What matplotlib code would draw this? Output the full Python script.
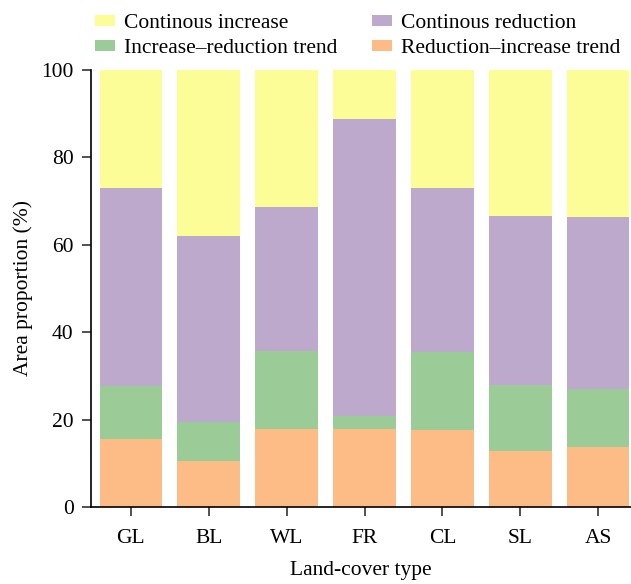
import matplotlib.pyplot as plt
import numpy as np

plt.rcParams['font.family'] = ['Liberation Serif', 'DejaVu Serif']

# land-cover types
types = ['GL', 'BL', 'WL', 'FR', 'CL', 'SL', 'AS']

# area proportion (%) of each trend class, bottom -> top
red_inc = [15.5, 10.5, 17.8, 17.8, 17.6, 12.8, 13.8]   # Reduction–increase trend
inc_red = [12.1, 9.0, 17.9, 3.0, 17.8, 15.1, 13.3]     # Increase–reduction trend
cont_red = [45.5, 42.6, 33.0, 67.9, 37.6, 38.8, 39.2]  # Continous reduction
cont_inc = [26.9, 37.9, 31.3, 11.3, 27.0, 33.3, 33.7]  # Continous increase

c_orange = '#fdbb86'
c_green = '#9bcc97'
c_purple = '#bca9cb'
c_yellow = '#fdfd97'

fs = 15.5

fig = plt.figure(figsize=(6.31, 5.84), dpi=100)
ax = fig.add_axes([91/631, 1 - 507/584, 540/631, 437/584])

x = np.arange(len(types))
w = 0.8
b1 = ax.bar(x, red_inc, w, color=c_orange, label='Reduction–increase trend')
bot = np.array(red_inc)
b2 = ax.bar(x, inc_red, w, bottom=bot, color=c_green, label='Increase–reduction trend')
bot = bot + np.array(inc_red)
b3 = ax.bar(x, cont_red, w, bottom=bot, color=c_purple, label='Continous reduction')
bot = bot + np.array(cont_red)
b4 = ax.bar(x, cont_inc, w, bottom=bot, color=c_yellow, label='Continous increase')

ax.set_xlim(-0.51, 6.42)
ax.set_ylim(0, 100)
ax.set_xticks(x)
ax.set_xticklabels(types)
ax.set_yticks([0, 20, 40, 60, 80, 100])
ax.tick_params(labelsize=fs, direction='out', length=6.5, width=1.2, color='#333333')
ax.tick_params(axis='x', pad=9.5)
ax.tick_params(axis='y', pad=6)
ax.spines['top'].set_visible(False)
ax.spines['right'].set_visible(False)
ax.spines['left'].set_linewidth(1.2)
ax.spines['bottom'].set_linewidth(1.2)

ax.set_xlabel('Land-cover type', fontsize=fs)
ax.set_ylabel('Area proportion (%)', fontsize=fs)
ax.xaxis.set_label_coords(0.5, -(561 - 507) / 437)
ax.yaxis.set_label_coords(-(91 - 33) / 540, 0.5)

fig.legend([b4, b2, b3, b1],
           ['Continous increase', 'Increase–reduction trend',
            'Continous reduction', 'Reduction–increase trend'],
           ncol=2, loc='upper left', bbox_to_anchor=(84/631, 1 - 3/584),
           frameon=False, fontsize=fs, borderpad=0, handlelength=0.93,
           handleheight=0.4, handletextpad=0.42, columnspacing=1.6,
           labelspacing=0.3)

fig.savefig('out.png', dpi=100)
